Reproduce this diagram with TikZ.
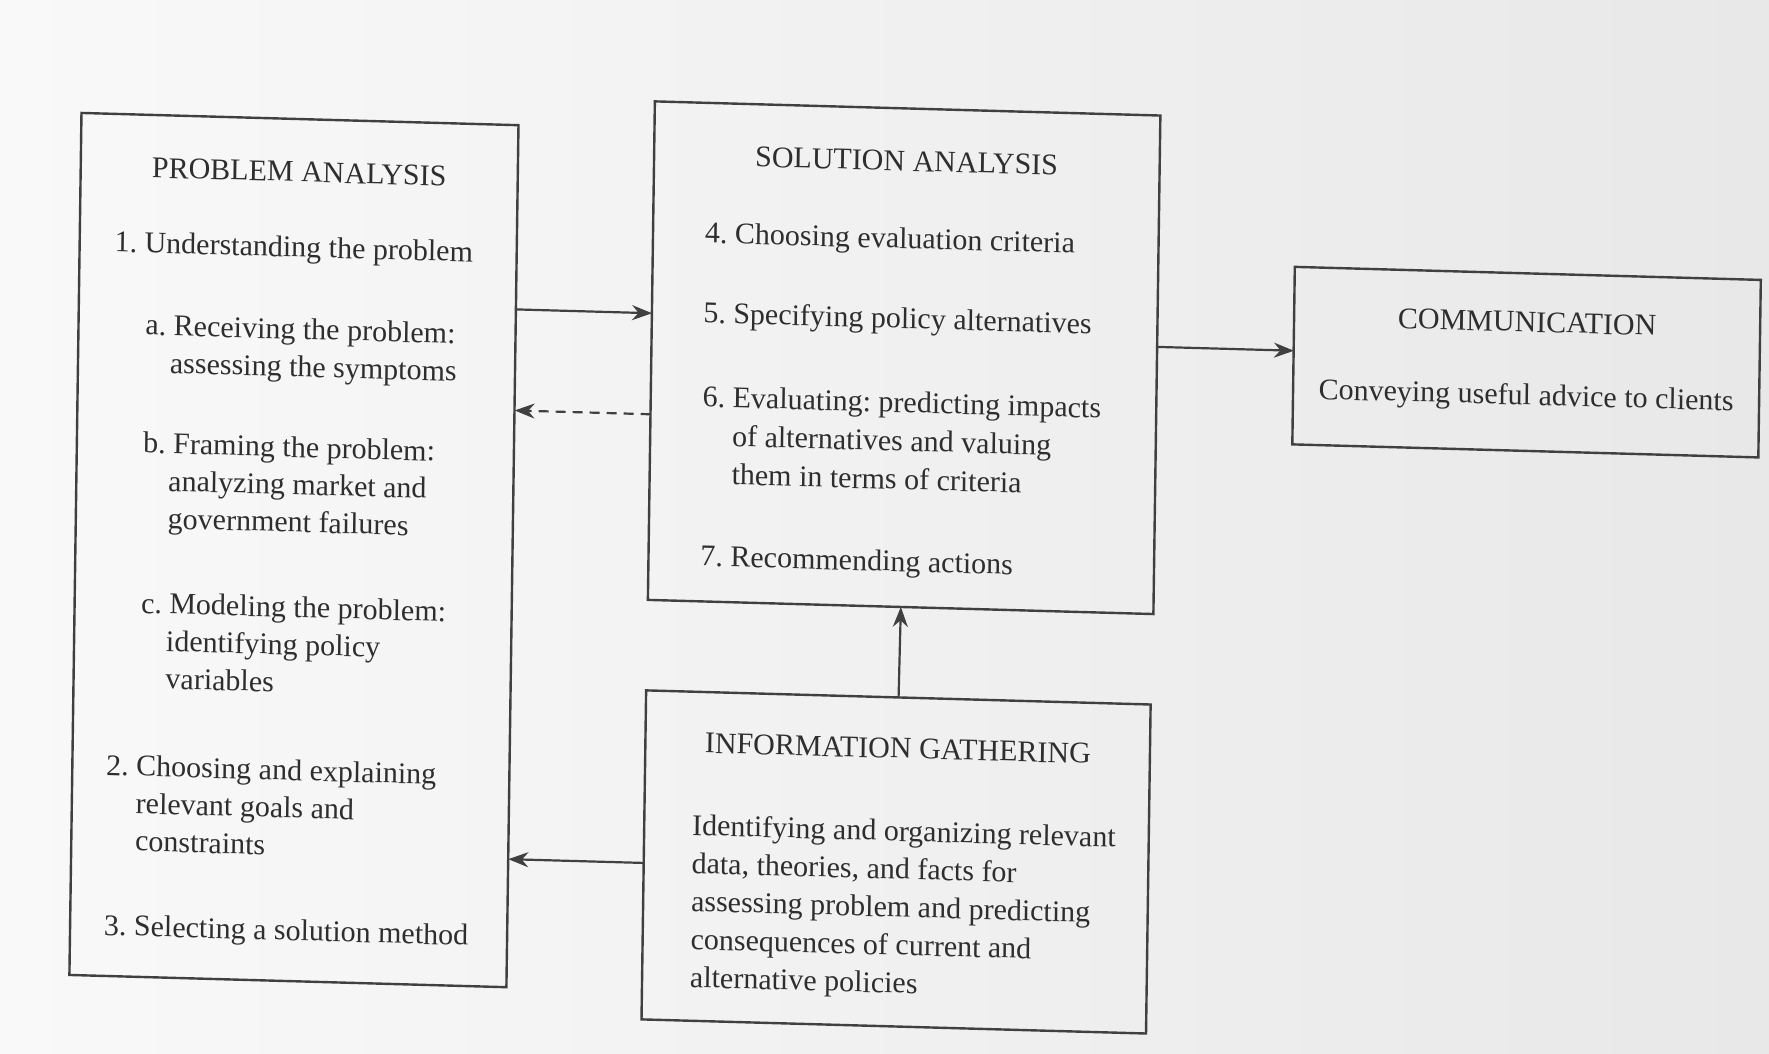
\documentclass[tikz,border=0pt]{standalone}
\usepackage{fontspec}
\setmainfont{Liberation Serif}
\usetikzlibrary{arrows.meta,calc}
\definecolor{ink}{HTML}{2E2E2E}
\definecolor{edge}{HTML}{404040}
\definecolor{paperL}{HTML}{F9F9F9}
\definecolor{paperR}{HTML}{E8E8E8}
\frenchspacing
\begin{document}
\begin{tikzpicture}[x=1pt,y=1pt,
  box/.style={draw=edge, line width=2.4pt, inner sep=0pt, outer sep=0pt},
  txt/.style={anchor=base west, inner sep=0pt, outer sep=0pt, text=ink, font=\fontsize{30}{37}\selectfont},
  ttl/.style={txt, anchor=base},
  arr/.style={draw=edge, line width=2.2pt, -{Stealth[length=20pt,width=15pt]}},
  dsh/.style={dash pattern=on 10pt off 7pt}]
\useasboundingbox (0,0) rectangle (1769,1054);
\fill[left color=paperL, right color=paperR] (0,0) rectangle (1769,1054);
\begin{scope}[shift={(884.5,527)}, cm={1,-0.028,0.014,1,(0,0)}, shift={(-884.5,-527)}, transform shape]
  % boxes
  \node[box, minimum width=437pt, minimum height=862pt] (pa) at (294.5,487.4) {};
  \node[box, minimum width=505.5pt, minimum height=498.5pt] (sa) at (901.75,696.75) {};
  \node[box, minimum width=466pt, minimum height=177.5pt] (cm) at (1524,709.75) {};
  \node[box, minimum width=504.5pt, minimum height=329pt] (ig) at (900.75,192.5) {};
  % problem analysis
  \node[ttl] (pa0) at (294.5,855.6) {PROBLEM ANALYSIS};
  \node[txt] (pa1) at (111,780.4) {1. Understanding the problem};
  \node[txt] (pa2) at (143,698.3) {a. Receiving the problem:};
  \node[txt] (pa3) at (168,660.8) {assessing the symptoms};
  \node[txt] (pa4) at (142.5,580.3) {b. Framing the problem:};
  \node[txt] (pa5) at (168,542.8) {analyzing market and};
  \node[txt] (pa6) at (168,505.3) {government failures};
  \node[txt] (pa7) at (142.5,420.2) {c. Modeling the problem:};
  \node[txt] (pa8) at (168,382.7) {identifying policy};
  \node[txt] (pa9) at (168,345.2) {variables};
  \node[txt] (pa10) at (110,257.2) {2. Choosing and explaining};
  \node[txt] (pa11) at (140,219.7) {relevant goals and};
  \node[txt] (pa12) at (140,182.2) {constraints};
  \node[txt] (pa13) at (110,97.2) {3. Selecting a solution method};
  % solution analysis
  \node[ttl] (sa0) at (901.5,883.6) {SOLUTION ANALYSIS};
  \node[txt] (sa1) at (701,806) {4. Choosing evaluation criteria};
  \node[txt] (sa2) at (700.5,726) {5. Specifying policy alternatives};
  \node[txt] (sa3) at (701,642) {6. Evaluating: predicting impacts};
  \node[txt] (sa4) at (731,603.5) {of alternatives and valuing};
  \node[txt] (sa5) at (731,565) {them in terms of criteria};
  \node[txt] (sa6) at (701,483) {7. Recommending actions};
  % communication
  \node[ttl] (cm0) at (1524,740) {COMMUNICATION};
  \node[ttl] (cm1) at (1524,667) {Conveying useful advice to clients};
  % information gathering
  \node[ttl] (ig0) at (901,296.3) {INFORMATION GATHERING};
  \node[txt] (ig1) at (696.5,213.5) {Identifying and organizing relevant};
  \node[txt] (ig2) at (696.5,175.5) {data, theories, and facts for};
  \node[txt] (ig3) at (696.5,137.5) {assessing problem and predicting};
  \node[txt] (ig4) at (696.5,99.5) {consequences of current and};
  \node[txt] (ig5) at (696.5,61.5) {alternative policies};
  % connectors
  \draw[arr] ($(pa.south east)!0.7861!(pa.north east)$) -- ($(sa.south west)!0.5747!(sa.north west)$);
  \draw[arr, dsh] ($(sa.south west)!0.3721!(sa.north west)$) -- ($(pa.south east)!0.6689!(pa.north east)$);
  \draw[arr] ($(sa.south east)!0.5356!(sa.north east)$) -- ($(cm.south west)!0.5268!(cm.north west)$);
  \draw[arr] (ig.north) -- (sa.south);
  \draw[arr] ($(ig.south west)!0.4754!(ig.north west)$) -- ($(pa.south east)!0.1485!(pa.north east)$);
\end{scope}
\end{tikzpicture}
\end{document}
